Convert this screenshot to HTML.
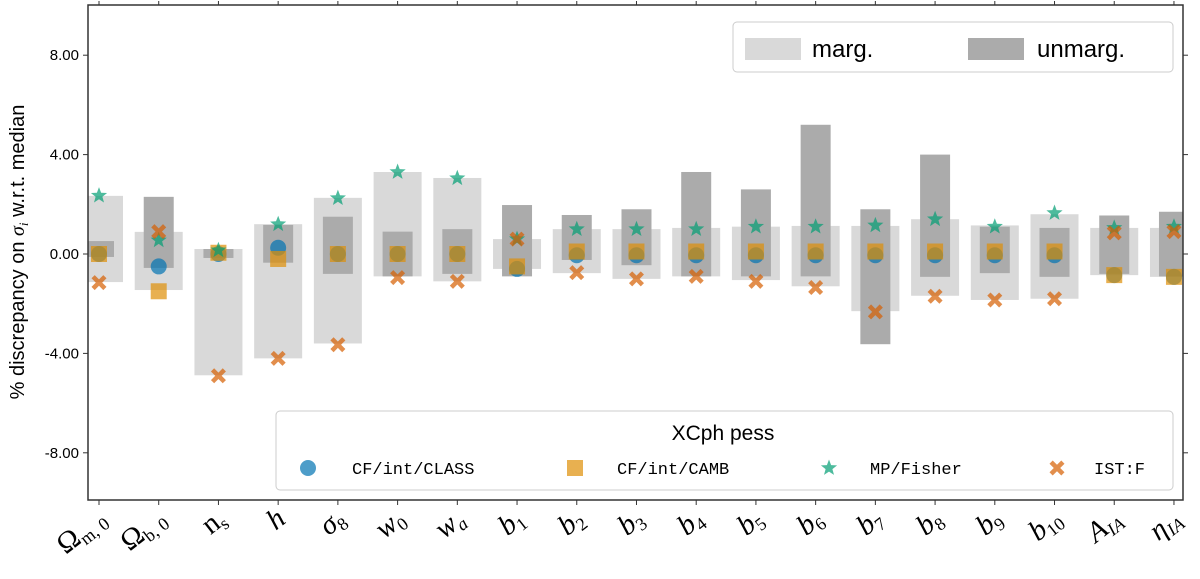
<!DOCTYPE html>
<html><head><meta charset="utf-8"><style>
html,body{margin:0;padding:0;background:#fff}
svg{display:block;font-family:"Liberation Sans",sans-serif}
</style></head><body>
<svg id="c" width="1200" height="579" viewBox="0 0 1200 579" xmlns="http://www.w3.org/2000/svg"></svg>
<script>
const categories=["Ωm0","Ωb0","ns","h","σ8","w0","wa","b1","b2","b3","b4","b5","b6","b7","b8","b9","b10","AIA","ηIA"];
const margHi=[2.34,0.89,0.2,1.2,2.26,3.3,3.06,0.6,1.0,1.0,1.05,1.1,1.13,1.13,1.4,1.15,1.6,1.05,1.05];
const margLo=[-1.13,-1.45,-4.88,-4.2,-3.6,-0.9,-1.1,-0.6,-0.77,-1.0,-0.9,-1.05,-1.3,-2.3,-1.68,-1.85,-1.8,-0.85,-0.92];
const unmargHi=[0.52,2.3,0.2,1.17,1.5,0.9,1.0,1.97,1.57,1.8,3.3,2.6,5.2,1.8,4.0,1.1,1.05,1.55,1.7];
const unmargLo=[-0.12,-0.56,-0.16,-0.35,-0.8,-0.9,-0.8,-0.9,-0.24,-0.45,-0.9,-0.9,-0.9,-3.63,-0.92,-0.77,-0.92,-0.8,-0.9];
const classVals=[0,-0.5,0,0.25,0,0,0,-0.6,-0.05,-0.05,-0.05,-0.05,-0.05,-0.05,-0.05,-0.05,-0.05,-0.85,-0.92];
const cambVals=[0,-1.5,0.05,-0.2,0,0,0,-0.5,0.1,0.1,0.1,0.1,0.1,0.1,0.1,0.1,0.1,-0.85,-0.92];
const fisherVals=[2.35,0.55,0.15,1.2,2.25,3.3,3.05,0.6,1.0,1.0,1.0,1.1,1.1,1.15,1.4,1.1,1.65,1.05,1.1];
const istfVals=[-1.15,0.9,-4.9,-4.2,-3.65,-0.95,-1.1,0.6,-0.75,-1.0,-0.9,-1.1,-1.35,-2.33,-1.7,-1.85,-1.8,0.85,0.9];
const yTicks=[8,4,0,-4,-8];
const tickLabels=["8.00","4.00","0.00","-4.00","-8.00"];
const xLabelsHTML=[
['Ω','m, 0',true],['Ω','b, 0',true],['n','s',true],['h','',false],['σ','8',false],['w','0',false],['w','a',false],
['b','1',false],['b','2',false],['b','3',false],['b','4',false],['b','5',false],['b','6',false],['b','7',false],['b','8',false],['b','9',false],['b','10',false],['A','IA',false],['η','IA',false]];

const L=88,R=1183,T=5,B=500;
const X=i=>99+i*59.72;
const Y=v=>254-v*24.85;
const NS="http://www.w3.org/2000/svg";
const svg=document.getElementById('c');
function mk(tag,attrs,parent){const e=document.createElementNS(NS,tag);for(const k in attrs)e.setAttribute(k,attrs[k]);(parent||svg).appendChild(e);return e;}

const defs=mk('defs',{});
const cp=mk('clipPath',{id:'plotclip'},defs);
mk('rect',{x:L,y:T,width:R-L,height:B-T},cp);

const gB=mk('g',{'clip-path':'url(#plotclip)'});


categories.forEach((c,i)=>{
  const r=mk('rect',{x:X(i)-24,y:Y(margHi[i]),width:48,height:Y(margLo[i])-Y(margHi[i]),fill:'#d9d9d9'},gB);
  
  
});
categories.forEach((c,i)=>{
  const r=mk('rect',{x:X(i)-15,y:Y(unmargHi[i]),width:30,height:Y(unmargLo[i])-Y(unmargHi[i]),fill:'#ababab'},gB);
  
  
});
function star(cx,cy,ro,ri){let p=[];for(let k=0;k<10;k++){const a=-Math.PI/2+k*Math.PI/5,r=k%2?ri:ro;p.push((cx+r*Math.cos(a)).toFixed(1)+','+(cy+r*Math.sin(a)).toFixed(1));}return p.join(' ');}
function cross(cx,cy,s,w){const a=s,b=w;return `M${cx-a} ${cy-a+b}L${cx-a+b} ${cy-a}L${cx} ${cy-b}L${cx+a-b} ${cy-a}L${cx+a} ${cy-a+b}L${cx+b} ${cy}L${cx+a} ${cy+a-b}L${cx+a-b} ${cy+a}L${cx} ${cy+b}L${cx-a+b} ${cy+a}L${cx-a} ${cy+a-b}L${cx-b} ${cy}Z`;}
const gP=mk('g',{'clip-path':'url(#plotclip)'});


categories.forEach((c,i)=>{const e=mk('circle',{cx:X(i),cy:Y(classVals[i]),r:8,fill:'#0173b2','fill-opacity':0.7},gP);
 });
categories.forEach((c,i)=>{const e=mk('rect',{x:X(i)-8,y:Y(cambVals[i])-8,width:16,height:16,fill:'#de8f05','fill-opacity':0.7},gP);
 });
categories.forEach((c,i)=>{const e=mk('polygon',{points:star(X(i),Y(fisherVals[i]),8.5,3.6),fill:'#029e73','fill-opacity':0.7},gP);
 });
categories.forEach((c,i)=>{const e=mk('path',{d:cross(X(i),Y(istfVals[i]),7.5,3.2),fill:'#d55e00','fill-opacity':0.7},gP);
 });

const fr=mk('rect',{x:L,y:T,width:R-L,height:B-T,fill:'none',stroke:'#333','stroke-width':1.5});


yTicks.forEach((v,k)=>{
  mk('line',{x1:L-5,x2:L,y1:Y(v),y2:Y(v),stroke:'#333','stroke-width':1});
  mk('line',{x1:R,x2:R+5,y1:Y(v),y2:Y(v),stroke:'#333','stroke-width':1});
  const t=mk('text',{x:L-9,y:Y(v)+5,'text-anchor':'end','font-size':15,fill:'#000'});t.textContent=tickLabels[k];
  
  
});
categories.forEach((c,i)=>{
  mk('line',{x1:X(i),x2:X(i),y1:B,y2:B+5,stroke:'#333','stroke-width':1});
  mk('line',{x1:X(i),x2:X(i),y1:T,y2:T-4,stroke:'#333','stroke-width':1});
  const [m,s,up]=xLabelsHTML[i];
  const t=mk('text',{transform:`translate(${X(i)+9},${B+22}) rotate(-38)`,'text-anchor':'end','font-size':29,'font-family':'"Liberation Serif",serif','font-style':up?'normal':'italic',fill:'#000'});
  const a=mk('tspan',{},t);a.textContent=m;
  if(s){const b=mk('tspan',{'font-size':18,dy:5,'font-style':(s.startsWith('m')||s.startsWith('b,')||s==='s'||/^\d/.test(s))?'normal':'italic'},t);b.textContent=s;}
  
  
});
const yl=mk('text',{transform:'translate(24,252) rotate(-90)','text-anchor':'middle','font-size':20,fill:'#000'});
yl.innerHTML='% discrepancy on <tspan font-family="Liberation Serif,serif" font-style="italic">σ</tspan><tspan font-size="13" dy="4" font-family="Liberation Serif,serif" font-style="italic">i</tspan><tspan dy="-4"> w.r.t. median</tspan>';



const lg=mk('g',{});


mk('rect',{x:733,y:22,width:440,height:50,rx:4,fill:'#fff','fill-opacity':0.85,stroke:'#ccc'},lg);
mk('rect',{x:745,y:38,width:56,height:22,fill:'#d9d9d9'},lg);
let t1=mk('text',{x:812,y:57,'font-size':24},lg);t1.textContent='marg.';
mk('rect',{x:968,y:38,width:56,height:22,fill:'#ababab'},lg);
let t2=mk('text',{x:1037,y:57,'font-size':24},lg);t2.textContent='unmarg.';

const lb=mk('g',{});


mk('rect',{x:276,y:411,width:897,height:79,rx:4,fill:'#fff','fill-opacity':0.85,stroke:'#ccc'},lb);
let tt=mk('text',{x:723,y:440,'text-anchor':'middle','font-size':21},lb);tt.textContent='XCph pess';
mk('circle',{cx:308,cy:468,r:8,fill:'#0173b2','fill-opacity':0.7},lb);
mk('rect',{x:567,y:460,width:16,height:16,fill:'#de8f05','fill-opacity':0.7},lb);
mk('polygon',{points:star(829,468,8.5,3.6),fill:'#029e73','fill-opacity':0.7},lb);
mk('path',{d:cross(1057,468,7.5,3.2),fill:'#d55e00','fill-opacity':0.7},lb);
[['CF/int/CLASS',352],['CF/int/CAMB',617],['MP/Fisher',870],['IST:F',1094]].forEach(([s,x])=>{
  const t=mk('text',{x:x,y:474,'font-size':17,'font-family':'"Liberation Mono",monospace'},lb);t.textContent=s;
  
  
});
</script>
</body></html>
